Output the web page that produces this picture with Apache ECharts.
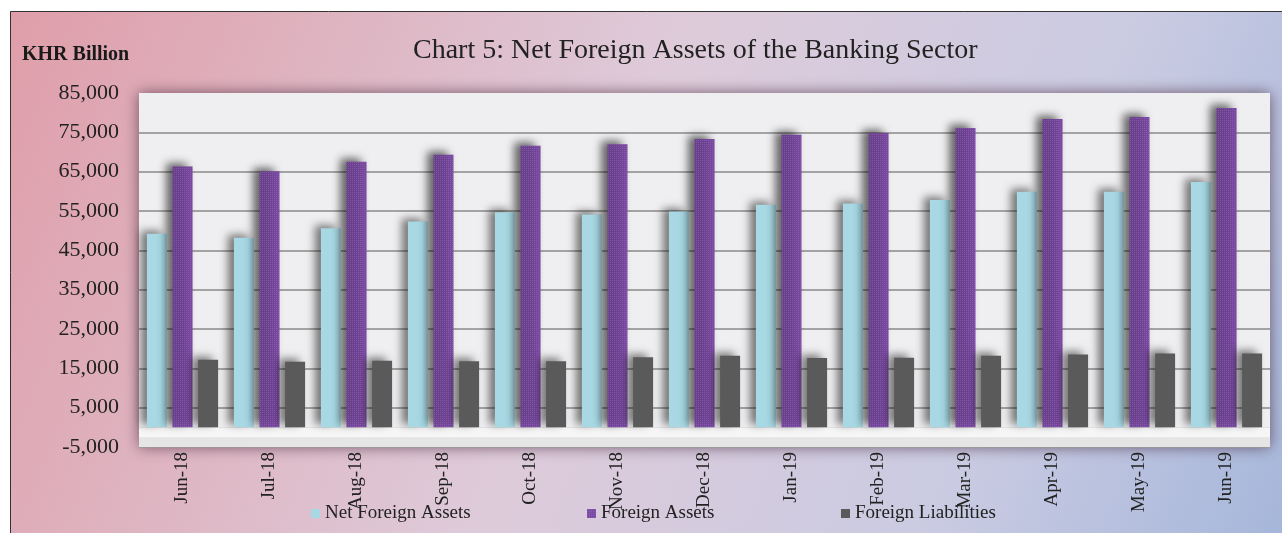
<!DOCTYPE html>
<html>
<head>
<meta charset="utf-8">
<script src="https://cdn.jsdelivr.net/npm/echarts@6/dist/echarts.min.js"></script>
<style>
html, body { margin: 0; padding: 0; background: #fff; }
#chart { width: 1282px; height: 533px; }
</style>
</head>
<body>
<div id="chart"></div>
<script>
var months = ['Jun-18', 'Jul-18', 'Aug-18', 'Sep-18', 'Oct-18', 'Nov-18', 'Dec-18',
              'Jan-19', 'Feb-19', 'Mar-19', 'Apr-19', 'May-19', 'Jun-19'];
var netForeignAssets = [49200, 48200, 50600, 52300, 54700, 54100, 54900, 56600, 56900, 57800, 59900, 59900, 62400];
var foreignAssets = [66300, 65100, 67500, 69300, 71600, 72000, 73300, 74400, 74800, 76100, 78400, 78900, 81200];
var foreignLiabilities = [17200, 16700, 16900, 16800, 16800, 17800, 18200, 17600, 17700, 18200, 18500, 18800, 18800];

var serif = '"Liberation Serif", "Times New Roman", serif';

var barShadow = {
    shadowColor: 'rgba(0,0,0,0.5)',
    shadowBlur: 9,
    shadowOffsetX: -6,
    shadowOffsetY: -3
};

function legendAt(name, x){
    return {
        data: [name],
        left: x,
        top: 499,
        itemWidth: 9,
        itemHeight: 9,
        itemGap: 4,
        icon: 'rect',
        textStyle: { fontFamily: serif, fontSize: 19, color: '#222' },
        selectedMode: false
    };
}

var chart = echarts.init(document.getElementById('chart'));
var option = {
    backgroundColor: '#fff',
    animation: false,
    graphic: [{
        type: 'rect',
        z: -100,
        silent: true,
        shape: { x: 10.5, y: 11.5, width: 1290, height: 540 },
        style: {
            fill: new echarts.graphic.LinearGradient(0, 0, 1, 1, [
                { offset: 0, color: '#df9ea9' },
                { offset: 0.45, color: '#decbda' },
                { offset: 0.75, color: '#cacbe2' },
                { offset: 1, color: '#a3b5da' }
            ]),
            stroke: '#333',
            lineWidth: 1
        }
    }, {
        type: 'text',
        left: 22,
        top: 45,
        style: {
            text: 'KHR Billion',
            font: 'bold 20px ' + serif,
            fill: '#1a1a1a'
        }
    }],
    title: {
        text: 'Chart 5: Net Foreign Assets of the Banking Sector',
        left: 408,
        top: 32,
        textStyle: { fontFamily: serif, fontSize: 28, fontWeight: 'normal', color: '#222' }
    },
    legend: [
        legendAt('Net Foreign Assets', 306),
        legendAt('Foreign Assets', 582),
        legendAt('Foreign Liabilities', 836)
    ],
    grid: {
        left: 139,
        right: 12,
        top: 93,
        bottom: 86,
        show: true,
        backgroundColor: '#efeef0',
        borderWidth: 0,
        shadowColor: 'rgba(70,40,60,0.7)',
        shadowBlur: 14,
        shadowOffsetX: 0,
        shadowOffsetY: 0
    },
    xAxis: {
        type: 'category',
        data: months,
        axisLine: { onZero: true, lineStyle: { color: '#8a8a8a', width: 1.5 } },
        axisTick: { show: false },
        axisLabel: {
            rotate: 90,
            margin: 5,
            fontFamily: serif,
            fontSize: 19,
            color: '#222'
        }
    },
    yAxis: {
        type: 'value',
        min: -5000,
        max: 85000,
        interval: 10000,
        axisLine: { show: false },
        axisTick: { show: false },
        axisLabel: {
            margin: 20,
            fontFamily: serif,
            fontSize: 22,
            color: '#222',
            formatter: function(v){ return v.toLocaleString('en-US'); }
        },
        splitLine: {
            lineStyle: {
                color: ['#9a9a9a', '#8a8a8a', '#8a8a8a', '#8a8a8a', '#8a8a8a',
                        '#8a8a8a', '#8a8a8a', '#8a8a8a', '#8a8a8a', 'transparent'],
                width: 1.5
            }
        }
    },
    series: [
        {
            name: 'Net Foreign Assets',
            type: 'bar',
            barWidth: 20,
            barGap: '28%',
            data: netForeignAssets,
            itemStyle: Object.assign({ color: '#a7d8e3' }, barShadow),
            markArea: {
                silent: true,
                itemStyle: { color: '#f7f6f7' },
                data: [
                    [{ yAxis: -2500 }, { yAxis: 0 }],
                    [{ yAxis: -5000, itemStyle: { color: '#e6e5e6' } }, { yAxis: -2500 }]
                ]
            }
        },
        {
            name: 'Foreign Assets',
            type: 'bar',
            barWidth: 20,
            barGap: '28%',
            data: foreignAssets,
            itemStyle: Object.assign({
                color: '#7a4ba2',
                decal: {
                    symbol: 'rect',
                    symbolSize: 1,
                    dashArrayX: [1, 1],
                    dashArrayY: [1, 1],
                    color: 'rgba(150,100,190,0.6)'
                }
            }, barShadow)
        },
        {
            name: 'Foreign Liabilities',
            type: 'bar',
            barWidth: 20,
            barGap: '28%',
            data: foreignLiabilities,
            itemStyle: Object.assign({ color: '#5a5a5a' }, barShadow)
        }
    ]
};
chart.setOption(option);
</script>
</body>
</html>
